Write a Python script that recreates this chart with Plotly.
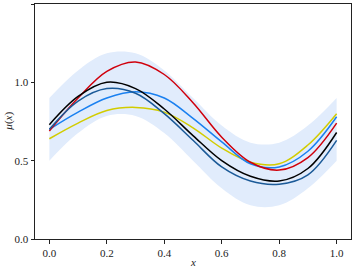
import plotly.graph_objects as go

x = [0.0, 0.1, 0.2, 0.3, 0.4, 0.5, 0.6, 0.7, 0.8, 0.9, 1.0]

band_upper = [0.90, 1.076, 1.185, 1.185, 1.076, 0.90, 0.724, 0.615, 0.615, 0.724, 0.90]
band_lower = [0.50, 0.676, 0.785, 0.785, 0.676, 0.50, 0.324, 0.215, 0.215, 0.324, 0.50]

red = [0.69, 0.90, 1.07, 1.13, 1.05, 0.87, 0.65, 0.49, 0.44, 0.52, 0.74]
black = [0.73, 0.91, 1.00, 0.96, 0.83, 0.66, 0.50, 0.40, 0.37, 0.45, 0.68]
navy = [0.70, 0.88, 0.96, 0.93, 0.80, 0.63, 0.46, 0.37, 0.35, 0.41, 0.63]
blue = [0.70, 0.81, 0.90, 0.94, 0.90, 0.77, 0.62, 0.48, 0.46, 0.56, 0.78]
yellow = [0.64, 0.74, 0.82, 0.84, 0.81, 0.71, 0.58, 0.49, 0.48, 0.60, 0.80]

series = [
    ("yellow", yellow, "#d2cc00"),
    ("blue", blue, "#1a80f0"),
    ("red", red, "#d0000c"),
    ("black", black, "#000000"),
    ("navy", navy, "#1b5a98"),
]

fig = go.Figure()
fig.add_trace(go.Scatter(x=x, y=band_lower, mode="lines",
                         line=dict(width=0, shape="spline", color="rgba(0,0,0,0)"),
                         showlegend=False, hoverinfo="skip"))
fig.add_trace(go.Scatter(x=x, y=band_upper, mode="lines", fill="tonexty",
                         fillcolor="#e1ecfc",
                         line=dict(width=0, shape="spline", color="rgba(0,0,0,0)"),
                         showlegend=False, hoverinfo="skip"))
for name, vals, col in series:
    fig.add_trace(go.Scatter(x=x, y=vals, mode="lines", name=name,
                             line=dict(color=col, width=1.5, shape="spline"),
                             showlegend=False))

font = dict(family="Liberation Serif", size=11, color="#222")
axis_common = dict(showgrid=False, zeroline=False, showline=True, linecolor="#222",
                   linewidth=1, mirror=True, ticks="outside", ticklen=3.5,
                   tickwidth=0.8, tickcolor="#222", tickfont=font)

fig.update_layout(
    width=353, height=268,
    margin=dict(l=35, r=2, t=4, b=29),
    paper_bgcolor="white", plot_bgcolor="white",
    font=font,
    xaxis=dict(range=[-0.05, 1.05], tickvals=[0, 0.2, 0.4, 0.6, 0.8, 1.0],
               ticktext=["0.0", "0.2", "0.4", "0.6", "0.8", "1.0"], **axis_common),
    yaxis=dict(range=[0, 1.5], tickvals=[0, 0.5, 1.0, 1.5],
               ticktext=["0.0", "0.5", "1.0", "1.5"], **axis_common),
    annotations=[
        dict(text="<i>x</i>", xref="paper", yref="paper", x=0.5, y=-0.098,
             xanchor="center", yanchor="middle", showarrow=False, font=font),
        dict(text="<i>μ</i>(<i>x</i>)", xref="paper", yref="paper", x=-0.085, y=0.5,
             xanchor="center", yanchor="middle", textangle=-90, showarrow=False, font=font),
    ],
)

fig.write_html("out.html", config={"displayModeBar": False},
               post_script="document.body.style.margin='0';document.body.style.overflow='hidden';")
